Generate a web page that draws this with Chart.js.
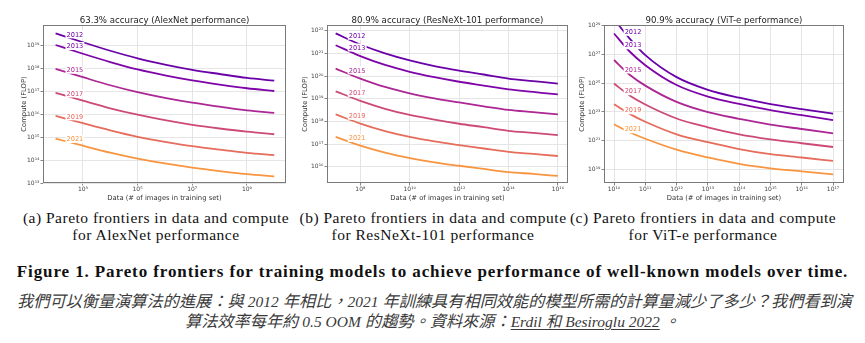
<!DOCTYPE html>
<html>
<head>
<meta charset="utf-8">
<script src="https://cdn.jsdelivr.net/npm/chart.js@4.4.1/dist/chart.umd.min.js"></script>
<style>
  body { margin: 0; background: #fff; }
  #page { position: relative; width: 865px; height: 343px; overflow: hidden; background: #fff; }
  .panel { position: absolute; top: 0; }
  .cap { position: absolute; top: 210px; width: 320px; text-align: center; font: 15.5px/16.7px 'Liberation Serif', serif; letter-spacing: 0.5px; color: #111; white-space: nowrap; }
  #fig { position: absolute; top: 262px; left: 0; width: 865px; text-align: center; font: bold 17px/20px 'Liberation Serif', serif; letter-spacing: 0.9px; color: #111; white-space: nowrap; }
  .zh { position: absolute; width: 865px; text-align: center; font: italic 16.2px/20px 'Liberation Serif', 'Noto Sans CJK TC', sans-serif; color: #3a3a3a; white-space: nowrap; }
  .zh .lat { font-size: 15.5px; }
  .zh u { text-decoration-thickness: 1px; text-underline-offset: 2px; }
</style>
</head>
<body>
<div id="page">
  <canvas id="alex" class="panel" width="285" height="205" style="left:10px"></canvas>
  <canvas id="resnext" class="panel" width="285" height="205" style="left:292px"></canvas>
  <canvas id="vit" class="panel" width="285" height="205" style="left:573px"></canvas>

  <div class="cap" style="left:-4px">(a) Pareto frontiers in data and compute<br>for AlexNet performance</div>
  <div class="cap" style="left:273px">(b) Pareto frontiers in data and compute<br>for ResNeXt-101 performance</div>
  <div class="cap" style="left:543px">(c) Pareto frontiers in data and compute<br>for ViT-e performance</div>

  <div id="fig">Figure 1. Pareto frontiers for training models to achieve performance of well-known models over time.</div>
  <div class="zh" style="top:292px;left:2px">我們可以衡量演算法的進展：與 <span class="lat">2012</span> 年相比，<span class="lat">2021</span> 年訓練具有相同效能的模型所需的計算量減少了多少？我們看到演</div>
  <div class="zh" style="top:312px;left:0px">算法效率每年約 <span class="lat">0.5 OOM</span> 的趨勢。資料來源：<u class="lat">Erdil 和 Besiroglu 2022</u> 。</div>
</div>

<script>
// years shown as separate frontiers
const years = ['2012', '2013', '2015', '2017', '2019', '2021'];
const lineColors = ['#6a00a8', '#7e03a8', '#ac2694', '#cd4a76', '#e66c5c', '#f89540'];

// (a) AlexNet: log10(images) vs log10(FLOP), one row per year
const alexTitle = '63.3% accuracy (AlexNet performance)';
const alexLogData = [2, 3, 4, 5, 6, 7, 8, 9, 10];
const alexLogCompute = [
  [19.51, 19.12, 18.75, 18.42, 18.15, 17.92, 17.74, 17.57, 17.45],
  [19.00, 18.62, 18.26, 17.94, 17.68, 17.46, 17.28, 17.12, 17.00],
  [17.96, 17.60, 17.25, 16.95, 16.70, 16.49, 16.32, 16.16, 16.05],
  [16.92, 16.58, 16.25, 15.97, 15.73, 15.53, 15.37, 15.23, 15.12],
  [15.92, 15.60, 15.29, 15.01, 14.79, 14.60, 14.45, 14.31, 14.21],
  [14.93, 14.62, 14.32, 14.06, 13.85, 13.67, 13.52, 13.39, 13.29]
];
const alexXTicks = [3, 5, 7, 9];
const alexYTicks = [13, 14, 15, 16, 17, 18, 19];

// (b) ResNeXt-101
const resTitle = '80.9% accuracy (ResNeXt-101 performance)';
const resLogData = [7, 8, 9, 10, 11, 12, 13, 14, 15, 16];
const resLogCompute = [
  [21.88, 21.39, 21.00, 20.69, 20.44, 20.24, 20.07, 19.89, 19.78, 19.67],
  [21.36, 20.88, 20.49, 20.19, 19.95, 19.75, 19.58, 19.41, 19.30, 19.19],
  [20.33, 19.89, 19.52, 19.24, 19.02, 18.84, 18.67, 18.51, 18.41, 18.31],
  [19.33, 18.91, 18.56, 18.29, 18.08, 17.90, 17.75, 17.59, 17.50, 17.40],
  [18.31, 17.91, 17.58, 17.32, 17.12, 16.96, 16.81, 16.66, 16.57, 16.48],
  [17.32, 16.94, 16.63, 16.39, 16.20, 16.05, 15.91, 15.77, 15.69, 15.60]
];
const resXTicks = [8, 10, 12, 14, 16];
const resYTicks = [16, 17, 18, 19, 20, 21, 22];

// (c) ViT-e
const vitTitle = '90.9% accuracy (ViT-e performance)';
const vitLogData = [10, 10.5, 11, 12, 13, 14, 15, 16, 17];
const vitLogCompute = [
  [29.45, 28.10, 26.95, 25.42, 24.54, 23.99, 23.55, 23.20, 22.88],
  [28.45, 27.20, 26.25, 24.87, 24.07, 23.56, 23.13, 22.78, 22.43],
  [26.61, 25.59, 24.83, 23.70, 22.99, 22.53, 22.12, 21.82, 21.51],
  [24.98, 24.14, 23.52, 22.55, 21.94, 21.45, 21.10, 20.83, 20.57],
  [23.54, 22.87, 22.32, 21.45, 20.90, 20.43, 20.07, 19.84, 19.60],
  [22.15, 21.59, 21.14, 20.38, 19.85, 19.40, 19.09, 18.88, 18.67]
];
const vitXTicks = [10, 11, 12, 13, 14, 15, 16, 17];
const vitYTicks = [19, 21, 23, 25, 27, 29];

const SUP = '⁰¹²³⁴⁵⁶⁷⁸⁹';
const pow10Label = v => '10' + String(Math.round(Math.log10(v))).split('').map(d => SUP[+d]).join('');

// frame round the plot, then the year labels sitting on their curves
const frameAndLabels = {
  id: 'frameAndLabels',
  afterDatasetsDraw(chart, args, opts) {
    const ctx = chart.ctx;
    const a = chart.chartArea;
    const xs = chart.scales.x;
    ctx.save();
    ctx.strokeStyle = '#7a7a7a';
    ctx.lineWidth = 1;
    ctx.strokeRect(a.left + 0.5, a.top + 0.5, a.right - a.left - 1, a.bottom - a.top - 1);

    ctx.font = '6.6px "DejaVu Sans"';
    ctx.textAlign = 'left';
    ctx.textBaseline = 'middle';
    const px = xs.getPixelForValue(Math.pow(10, opts.at));
    chart.data.datasets.forEach((ds, i) => {
      const pts = chart.getDatasetMeta(i).data;
      let y = null;
      for (let k = 0; k < pts.length - 1; k++) {
        if (pts[k].x <= px && pts[k + 1].x >= px) {
          const t = (px - pts[k].x) / (pts[k + 1].x - pts[k].x);
          y = pts[k].y + t * (pts[k + 1].y - pts[k].y);
          break;
        }
      }
      if (y === null) return;
      y -= opts.lift;
      const w = ctx.measureText(ds.label).width;
      ctx.fillStyle = '#fff';
      ctx.fillRect(px - 1, y - 4, w + 2, 8);
      ctx.fillStyle = ds.borderColor;
      ctx.fillText(ds.label, px, y + 0.5);
    });
    ctx.restore();
  }
};

function makePanel(id, title, logData, logCompute, xTicks, yTicks, p) {
  const datasets = logCompute.map((row, i) => ({
    label: years[i],
    data: row.map((v, j) => ({ x: Math.pow(10, logData[j]), y: Math.pow(10, v) })),
    borderColor: lineColors[i],
    borderWidth: 1.8,
    pointRadius: 0,
    cubicInterpolationMode: 'monotone',
    fill: false
  }));

  const tickFont = { family: 'DejaVu Sans', size: 6 };
  const titleFont = { family: 'DejaVu Sans', size: 6.8 };

  return new Chart(document.getElementById(id), {
    type: 'line',
    data: { datasets },
    options: {
      responsive: false,
      animation: false,
      layout: { padding: { left: 0, right: p.padRight, top: 0, bottom: 0 } },
      plugins: {
        legend: { display: false },
        tooltip: { enabled: false },
        title: {
          display: true,
          text: title,
          fullSize: false,
          color: '#222',
          font: { family: 'DejaVu Sans', size: 8.6, weight: 'normal', lineHeight: 1 },
          padding: { top: 16.4, bottom: 0.0 }
        },
        frameAndLabels: { at: p.labelAt, lift: p.lift }
      },
      scales: {
        x: {
          type: 'logarithmic',
          min: Math.pow(10, p.xMin),
          max: Math.pow(10, p.xMax),
          afterBuildTicks: s => { s.ticks = xTicks.map(v => ({ value: Math.pow(10, v) })); },
          afterFit: s => { s.height = 22; },
          ticks: { callback: pow10Label, font: tickFont, color: '#444', padding: 0, maxRotation: 0, autoSkip: false },
          grid: { color: '#e2e2e2', lineWidth: 0.9, drawTicks: true, tickLength: 2.5, tickColor: '#777' },
          border: { display: false },
          title: { display: true, text: 'Data (# of images in training set)', font: titleFont, color: '#333', padding: { top: 0, bottom: 3 } }
        },
        y: {
          type: 'logarithmic',
          min: Math.pow(10, p.yMin),
          max: Math.pow(10, p.yMax),
          afterBuildTicks: s => { s.ticks = yTicks.map(v => ({ value: Math.pow(10, v) })); },
          afterFit: s => { s.width = p.yWidth; },
          ticks: { callback: pow10Label, font: tickFont, color: '#444', padding: 1, autoSkip: false },
          grid: { color: '#e2e2e2', lineWidth: 0.9, drawTicks: true, tickLength: 2.5, tickColor: '#777' },
          border: { display: false },
          title: { display: true, text: 'Compute (FLOP)', font: titleFont, color: '#333', padding: { top: p.yTitlePad, bottom: 0 } }
        }
      }
    },
    plugins: [frameAndLabels]
  });
}

makePanel('alex', alexTitle, alexLogData, alexLogCompute, alexXTicks, alexYTicks,
  { xMin: 1.54, xMax: 10.43, yMin: 13, yMax: 19.87, yWidth: 33, padRight: 9, yTitlePad: 10.3, labelAt: 2.40, lift: 2.5 });
makePanel('resnext', resTitle, resLogData, resLogCompute, resXTicks, resYTicks,
  { xMin: 6.65, xMax: 16.41, yMin: 15.29, yMax: 22.25, yWidth: 35, padRight: 9, yTitlePad: 8.8, labelAt: 7.53, lift: 3.5 });
makePanel('vit', vitTitle, vitLogData, vitLogCompute, vitXTicks, vitYTicks,
  { xMin: 9.68, xMax: 17.35, yMin: 18.07, yMax: 29.04, yWidth: 31, padRight: 14, yTitlePad: 5.3, labelAt: 10.34, lift: 0.5 });
</script>
</body>
</html>
